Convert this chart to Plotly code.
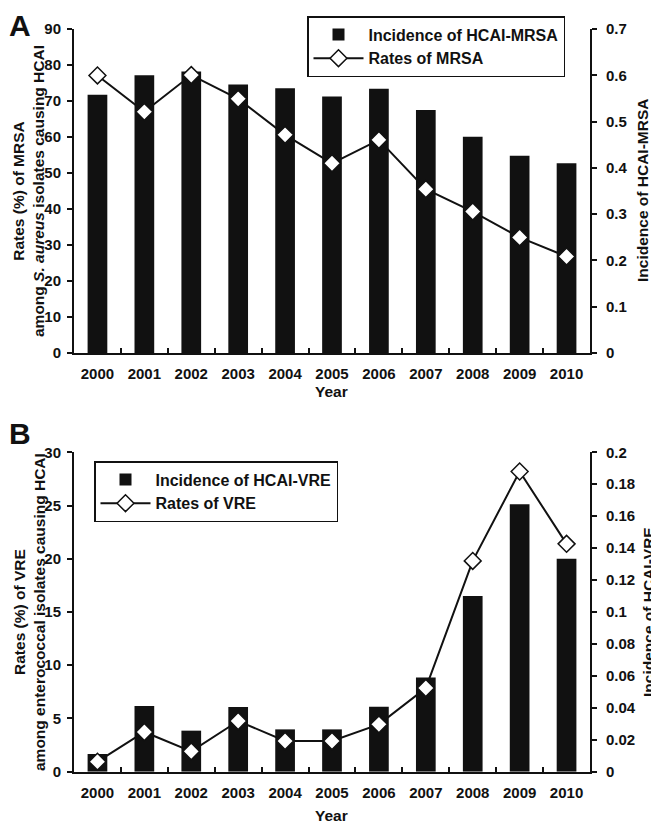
import plotly.graph_objects as go

years = ["2000", "2001", "2002", "2003", "2004", "2005", "2006", "2007", "2008", "2009", "2010"]

# Panel A
mrsa_incidence = [0.558, 0.600, 0.608, 0.580, 0.572, 0.554, 0.571, 0.525, 0.467, 0.426, 0.410]
mrsa_rates = [77.1, 67.0, 77.2, 70.6, 60.6, 52.7, 59.2, 45.5, 39.3, 32.1, 26.8]

# Panel B
vre_incidence = [0.0111, 0.0411, 0.0257, 0.0405, 0.0265, 0.0265, 0.0407, 0.059, 0.110, 0.1674, 0.1334]
vre_rates = [0.94, 3.73, 1.91, 4.76, 2.88, 2.88, 4.45, 7.86, 19.8, 28.2, 21.4]

W, H = 659, 824
OFF = 8  # page offset of the plot div (browser body margin)
FONT = "Liberation Sans, Arial, sans-serif"


def px(x):
    return (x - OFF) / W


def py(y):
    return 1 - (y - OFF) / H


fig = go.Figure()

bar_style = dict(marker=dict(color="#111111", line=dict(width=0)), width=0.42)
line_style = dict(mode="lines+markers", line=dict(color="#111111", width=2),
                  marker=dict(symbol="diamond", size=13, color="white",
                              line=dict(color="#111111", width=1.5)))

fig.add_trace(go.Bar(x=years, y=mrsa_incidence, name="Incidence of HCAI-MRSA",
                     xaxis="x", yaxis="y", legend="legend", **bar_style))
fig.add_trace(go.Scatter(x=years, y=mrsa_rates, name="Rates of MRSA",
                         xaxis="x", yaxis="y2", legend="legend", **line_style))
fig.add_trace(go.Bar(x=years, y=vre_incidence, name="Incidence of HCAI-VRE",
                     xaxis="x2", yaxis="y3", legend="legend2", **bar_style))
fig.add_trace(go.Scatter(x=years, y=vre_rates, name="Rates of VRE",
                         xaxis="x2", yaxis="y4", legend="legend2", **line_style))

tickfont = dict(family=FONT, size=15, color="#111111", weight="bold")
xdom = [px(74), px(590)]
domA = [py(353), py(29)]
domB = [py(771.7), py(452.3)]

xcommon = dict(type="category", range=[-0.5, 10.5], showline=True, linecolor="#111111",
               linewidth=2, ticks="inside", tickson="boundaries", ticklen=5, tickwidth=1.5,
               tickcolor="#111111", tickfont=tickfont, showgrid=False, zeroline=False,
               domain=xdom, fixedrange=True, automargin=False, ticklabelstandoff=6)
ycommon = dict(showline=True, linecolor="#111111", linewidth=2, ticks="outside", ticklen=5,
               tickwidth=2, tickcolor="#111111", tickfont=tickfont, showgrid=False,
               zeroline=False, fixedrange=True, automargin=False)

legfont = dict(family=FONT, size=16, color="#111111", weight="bold")
fig.update_layout(
    width=W, height=H,
    margin=dict(l=0, r=0, t=0, b=0, autoexpand=False),
    paper_bgcolor="white", plot_bgcolor="white",
    xaxis=dict(anchor="y", **xcommon),
    yaxis=dict(domain=domA, side="right", anchor="x", range=[0, 0.7], dtick=0.1,
               tickformat="~g", ticklabelstandoff=6, **ycommon),
    yaxis2=dict(overlaying="y", side="left", anchor="x", range=[0, 90], dtick=10,
                ticklabelstandoff=3, **ycommon),
    xaxis2=dict(anchor="y3", **xcommon),
    yaxis3=dict(domain=domB, side="right", anchor="x2", range=[0, 0.2], dtick=0.02,
                tickformat="~g", ticklabelstandoff=6, **ycommon),
    yaxis4=dict(overlaying="y3", side="left", anchor="x2", range=[0, 30], dtick=5,
                ticklabelstandoff=3, **ycommon),
    legend=dict(x=px(307), y=py(16), xanchor="left", yanchor="top",
                bordercolor="#111111", borderwidth=1.5, bgcolor="white",
                font=legfont, traceorder="normal", itemwidth=50),
    legend2=dict(x=px(94), y=py(461), xanchor="left", yanchor="top",
                 bordercolor="#111111", borderwidth=1.5, bgcolor="white",
                 font=legfont, traceorder="normal", itemwidth=50),
    showlegend=True,
)

afont = dict(family=FONT, size=15.5, color="#111111", weight="bold")
letterfont = dict(family=FONT, size=30, color="#111111", weight="bold")
annotations = [
    dict(text="A", x=px(8), y=py(8), xanchor="left", yanchor="top", borderpad=0, font=letterfont),
    dict(text="B", x=px(8), y=py(416), xanchor="left", yanchor="top", borderpad=0, font=letterfont),
    dict(text="Year", x=px(331), y=py(391), font=afont),
    dict(text="Year", x=px(331), y=py(815), font=afont),
    dict(text="Rates (%) of MRSA<br>among <i>S. aureus</i> isolates causing HCAI",
         x=px(29), y=py(191), textangle=-90, font=afont),
    dict(text="Rates (%) of VRE<br>among enterococcal isolates causing HCAI",
         x=px(29), y=py(612), textangle=-90, font=afont),
    dict(text="Incidence of HCAI-MRSA", x=px(643), y=py(191), textangle=-90, font=afont),
    dict(text="Incidence of HCAI-VRE", x=px(648), y=py(612), textangle=-90, font=afont),
]
for a in annotations:
    a.setdefault("xanchor", "center")
    a.setdefault("yanchor", "middle")
    a.update(xref="paper", yref="paper", showarrow=False)
fig.update_layout(annotations=annotations)

fig.write_html("out.html")
